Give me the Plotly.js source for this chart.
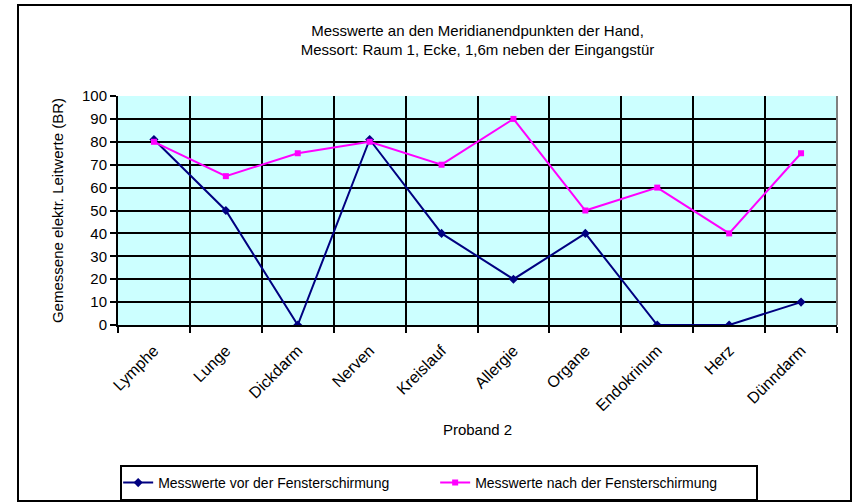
<!DOCTYPE html>
<html>
<head>
<meta charset="utf-8">
<script src="https://cdn.plot.ly/plotly-3.0.1.min.js"></script>
<style>
html,body{margin:0;padding:0;background:#fff;}
#wrap{position:relative;width:854px;height:504px;}
#chart{width:854px;height:504px;}
#frame{position:absolute;left:17px;top:4px;width:831px;height:494px;border:2px solid #000;pointer-events:none;}
</style>
</head>
<body>
<div id="wrap"><div id="chart"></div><div id="frame"></div></div>
<script>
const categories = ["Lymphe","Lunge","Dickdarm","Nerven","Kreislauf","Allergie","Organe","Endokrinum","Herz","Dünndarm"];
const vorValues = [81, 50, 0, 81, 40, 20, 40, 0, 0, 10];
const nachValues = [80, 65, 75, 80, 70, 90, 50, 60, 40, 75];
const seriesNames = ["Messwerte vor der Fensterschirmung", "Messwerte nach der Fensterschirmung"];
const titleLines = ["Messwerte an den Meridianendpunkten der Hand,", "Messort: Raum 1, Ecke, 1,6m neben der Eingangstür"];
const xTitle = "Proband 2";
const yTitle = "Gemessene elektr. Leitwerte (BR)";

const FONT = "Liberation Sans, Arial, sans-serif";

const traces = [
  {x: categories, y: vorValues, name: seriesNames[0], type: "scatter", mode: "lines+markers",
   line: {color: "#000080", width: 2}, marker: {symbol: "diamond", size: 7, color: "#000080"}},
  {x: categories, y: nachValues, name: seriesNames[1], type: "scatter", mode: "lines+markers",
   line: {color: "#FF00FF", width: 2}, marker: {symbol: "square", size: 6, color: "#FF00FF"}}
];

// plot area: x 118..837, y 96..325 ; paper bottom at 501
const layout = {
  width: 854, height: 504,
  margin: {l: 118, r: 17, t: 96, b: 3},
  paper_bgcolor: "rgba(0,0,0,0)",
  plot_bgcolor: "#CCFFFF",
  font: {family: FONT, size: 14, color: "#000"},
  showlegend: true,
  title: {text: titleLines.join("<br>"), font: {family: FONT, size: 15, color: "#000"},
          x: 0.5, xref: "paper", y: 0.929, yref: "container", yanchor: "top"},
  xaxis: {
    type: "category", range: [-0.5, 9.5], tickson: "boundaries",
    showgrid: true, gridcolor: "#000", gridwidth: 2,
    ticks: "outside", ticklen: 6, tickcolor: "#000", tickwidth: 2,
    tickangle: -45, tickfont: {family: FONT, size: 16}, ticklabelstandoff: 8,
    showline: true, linecolor: "#000", linewidth: 2,
    title: {text: xTitle, font: {family: FONT, size: 15}, standoff: 11},
    fixedrange: true, zeroline: false
  },
  yaxis: {
    range: [0, 100], dtick: 10, tick0: 0,
    domain: [(501 - 325) / 405, 1],
    showgrid: true, gridcolor: "#000", gridwidth: 2,
    ticks: "outside", ticklen: 6, tickcolor: "#000", tickwidth: 2,
    tickfont: {family: FONT, size: 15},
    showline: true, linecolor: "#000", linewidth: 2,
    title: {text: yTitle, font: {family: FONT, size: 15}, standoff: 15},
    zeroline: false, fixedrange: true
  },
  legend: {
    orientation: "h", x: 0.003, xanchor: "left", y: 0, yanchor: "bottom",
    bordercolor: "#000", borderwidth: 2, bgcolor: "#fff",
    font: {family: FONT, size: 14}, entrywidth: 276, itemwidth: 30,
    tracegroupgap: 0, valign: "middle", indentation: -4
  },
  shapes: [
    {type: "line", xref: "paper", yref: "paper", x0: 1, x1: 1, y0: (501 - 325) / 405, y1: 1,
     line: {color: "#808080", width: 2}}
  ]
};

Plotly.newPlot("chart", traces, layout, {displayModeBar: false, staticPlot: true});
</script>
</body>
</html>
